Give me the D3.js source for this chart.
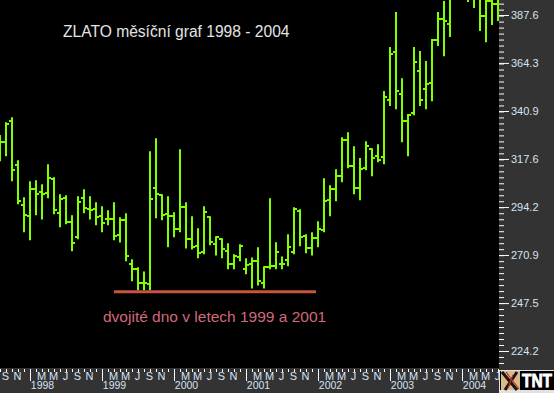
<!DOCTYPE html>
<html>
<head>
<meta charset="utf-8">
<script src="https://cdn.jsdelivr.net/npm/d3@7"></script>
<style>
  html, body { margin: 0; padding: 0; background: #000; }
  svg { display: block; font-family: "Liberation Sans", Arial, sans-serif; }
</style>
</head>
<body>
<svg id="chart"></svg>
<script>
// monthly bars, first one is Aug 1997
const startYear = 1997;
const startMonth = 7;
const high = [329.2,335.5,337.9,317.0,299.0,306.8,307.2,305.3,315.0,308.7,300.4,299.9,290.2,299.4,302.9,299.4,296.5,294.6,292.6,296.5,289.2,291.2,268.8,264.9,262.9,321.4,327.7,300.4,299.4,291.7,322.3,
  296.5,289.7,283.9,294.6,289.7,280.0,279.0,276.6,271.2,276.1,269.3,269.7,274.6,265.4,298.5,277.1,270.2,281.0,294.1,293.1,281.0,281.9,287.3,308.2,304.8,312.6,328.2,330.6,323.8,318.0,
  326.2,322.8,324.8,350.6,372.0,389.1,356.9,339.4,372.0,370.1,365.2,375.9,389.1,394.4,399,412,420,415,408,405,402,404,403];
const low = [316.5,318.9,306.8,295.6,281.9,278.0,290.2,288.2,298.5,290.7,284.4,285.8,272.7,278.5,291.2,288.2,285.3,281.9,285.3,278.0,277.0,267.8,258.1,253.7,253.7,253.7,288.7,287.8,274.6,279.5,281.9,
  274.1,273.6,269.3,271.2,275.6,270.7,269.3,263.9,263.9,267.8,261.5,254.6,256.1,254.6,263.9,263.9,263.9,265.4,271.2,275.1,271.7,270.7,274.6,281.9,289.7,297.0,306.3,313.1,300.4,297.5,
  312.1,309.2,316.0,315.0,343.3,341.8,325.7,318.9,338.9,343.3,341.8,345.7,372.5,367.6,376.9,396,398,393.9,391.0,379.8,374.4,382.7,384.7];
const open = [326.0,325.7,336.0,314.5,295.1,289.7,302.9,301.4,300.9,307.7,291.2,298.5,286.8,279.5,298.5,293.1,293.1,289.7,288.2,288.2,280.5,287.8,266.3,263.9,257.1,256.6,303.3,299.9,290.7,289.7,283.4,
  294.1,278.5,275.1,272.2,289.2,276.1,278.5,272.7,266.3,269.7,263.9,266.3,267.8,257.1,264.9,265.4,266.3,268.3,272.2,292.2,280.0,274.1,279.0,282.9,297.5,302.9,309.2,326.7,314.1,303.3,
  313.1,322.3,318.9,318.4,346.2,369.6,349.1,336.0,339.9,360.3,351.6,354.5,375.4,385.6,383.2,396,408,410,400,398,387.1,394.4,392.9];
const close = [325.7,334.5,312.1,297.0,290.2,302.9,300.4,300.4,308.2,292.6,298.0,286.8,276.6,296.5,293.6,292.6,289.2,286.3,288.2,280.0,287.8,270.2,263.9,257.1,257.1,298.0,300.4,290.2,289.7,283.4,294.1,
  278.5,274.6,271.7,291.7,277.1,279.5,273.6,266.3,270.2,275.1,265.8,267.8,258.1,264.9,265.4,272.2,266.3,274.6,293.1,279.5,274.1,279.0,283.4,297.0,302.9,309.2,326.7,314.1,303.3,312.6,
  323.8,317.9,317.0,347.7,368.6,350.6,336.0,338.9,364.7,346.2,354.0,375.4,385.6,384.7,396,408,410,400,398,387.1,394.4,392.9,396];

const priceTicks = [224.2, 247.5, 270.9, 294.2, 317.6, 340.9, 364.3, 387.6];
const monthLetters = ['J','F','M','A','M','J','J','A','S','O','N','D'];
const labelledMonths = [2, 4, 6, 8, 10];
const years = [1998, 1999, 2000, 2001, 2002, 2003, 2004];
const supportLevel = 253.0;

const titleText = 'ZLATO měsíční graf 1998 - 2004';
const noteText = 'dvojité dno v letech 1999 a 2001';

const width = 554, height = 393;
const plotRight = 499, plotBottom = 368;
const green = '#7fff00';
const axisText = '#d5e3f5';

const svg = d3.select('#chart').attr('width', width).attr('height', height);

// panels
svg.append('rect').attr('width', width).attr('height', height).attr('fill', '#333333');
svg.append('rect').attr('width', plotRight).attr('height', plotBottom).attr('fill', '#000000');

svg.append('clipPath').attr('id', 'plot-clip')
  .append('rect').attr('width', plotRight).attr('height', plotBottom);

const bars = high.map((h, i) => ({ i, high: h, low: low[i], open: open[i], close: close[i] }));

// scales
const xScale = d3.scaleLinear().domain([0, bars.length - 1]).range([0, 498]);
const yScale = d3.scaleLinear().domain([224.2, 387.6]).range([351, 15]);

const monthOf = i => (startMonth + i) % 12;
const indexOfYear = y => (y - startYear) * 12 - startMonth;

// open / high / low / close bars
const plot = svg.append('g').attr('clip-path', 'url(#plot-clip)');
const barG = plot.selectAll('g.bar').data(bars).join('g').attr('class', 'bar').attr('stroke', green).attr('stroke-width', 2);

barG.append('line')
  .attr('x1', d => xScale(d.i)).attr('x2', d => xScale(d.i))
  .attr('y1', d => yScale(d.high)).attr('y2', d => yScale(d.low));
barG.append('line')
  .attr('x1', d => xScale(d.i) - 3).attr('x2', d => xScale(d.i))
  .attr('y1', d => Math.round(yScale(d.open))).attr('y2', d => Math.round(yScale(d.open)));
barG.append('line')
  .attr('x1', d => xScale(d.i)).attr('x2', d => xScale(d.i) + 3)
  .attr('y1', d => Math.round(yScale(d.close))).attr('y2', d => Math.round(yScale(d.close)));

// support line across the double bottom
svg.append('line')
  .attr('x1', 114).attr('x2', 316)
  .attr('y1', yScale(supportLevel)).attr('y2', yScale(supportLevel))
  .attr('stroke', '#c9533b').attr('stroke-width', 3);

svg.append('text').attr('x', 63).attr('y', 37)
  .attr('fill', '#e4e4e4').attr('font-size', 15.6).text(titleText);
svg.append('text').attr('x', 103).attr('y', 322)
  .attr('fill', '#d2697a').attr('font-size', 15.5).text(noteText);

// price axis
const minorStep = (priceTicks[1] - priceTicks[0]) / 8;
const minorTicks = d3.range(-3, 62).map(k => 224.2 + k * minorStep)
  .filter(v => yScale(v) > 0 && yScale(v) < plotBottom);

const yMinor = svg.append('g').attr('transform', `translate(${plotRight},0)`)
  .call(d3.axisRight(yScale).tickValues(minorTicks).tickSize(5).tickFormat(''));
const yMajor = svg.append('g').attr('transform', `translate(${plotRight},0)`)
  .call(d3.axisRight(yScale).tickValues(priceTicks).tickSize(10).tickPadding(2).tickFormat(d3.format('.1f')));

// month axis
const allMonths = bars.map(d => d.i);
const xMinor = svg.append('g').attr('transform', `translate(0,${plotBottom + 1})`)
  .call(d3.axisBottom(xScale).tickValues(allMonths).tickSize(3).tickFormat(''));
const xJan = svg.append('g').attr('transform', `translate(0,${plotBottom + 1})`)
  .call(d3.axisBottom(xScale).tickValues(allMonths.filter(i => monthOf(i) === 0)).tickSize(12).tickFormat(''));
const xLabels = svg.append('g').attr('transform', `translate(-1,${plotBottom + 3})`)
  .call(d3.axisBottom(xScale).tickValues(allMonths.filter(i => labelledMonths.includes(monthOf(i))))
    .tickSize(0).tickPadding(1).tickFormat(i => monthLetters[monthOf(i)]));
const xYears = svg.append('g').attr('transform', `translate(12,${plotBottom + 14})`)
  .call(d3.axisBottom(xScale).tickValues(years.map(indexOfYear))
    .tickSize(0).tickPadding(0).tickFormat(i => startYear + Math.floor((i + startMonth) / 12)));

[yMinor, yMajor, xMinor, xJan, xLabels, xYears].forEach(g => {
  g.select('.domain').remove();
  g.selectAll('.tick line').attr('stroke', '#ffffff');
  g.selectAll('.tick text').attr('fill', axisText)
    .attr('font-family', '"Liberation Sans", Arial, sans-serif').attr('font-size', 11);
});
xLabels.selectAll('.tick line').remove();
xYears.selectAll('.tick line').remove();
xYears.selectAll('.tick text').attr('font-size', 10.5);

// TNT logo in the corner
const logo = svg.append('g').attr('transform', 'translate(499,370)');
logo.append('rect').attr('width', 55).attr('height', 23).attr('fill', '#e2e2e2');
logo.append('rect').attr('x', 1).attr('y', 1).attr('width', 54).attr('height', 19).attr('fill', '#000000');
logo.append('rect').attr('x', 2).attr('y', 1).attr('width', 19).attr('height', 19).attr('fill', '#d9b98a');
logo.append('path').attr('d', 'M3 2L18 20M18 2L6 20').attr('stroke', '#1c1412').attr('stroke-width', 3).attr('fill', 'none');
logo.append('path').attr('d', 'M7 2L20 19M14 5L9 18').attr('stroke', '#b0342a').attr('stroke-width', 1.2).attr('fill', 'none');
logo.append('text').attr('x', 23).attr('y', 17).attr('fill', '#ffffff').attr('stroke', '#ffffff').attr('stroke-width', 0.8)
  .attr('font-family', '"Liberation Sans Narrow", "Liberation Sans", sans-serif')
  .attr('font-size', 18).attr('font-weight', 'bold').attr('textLength', 30).attr('lengthAdjust', 'spacingAndGlyphs').text('TNT');
</script>
</body>
</html>
